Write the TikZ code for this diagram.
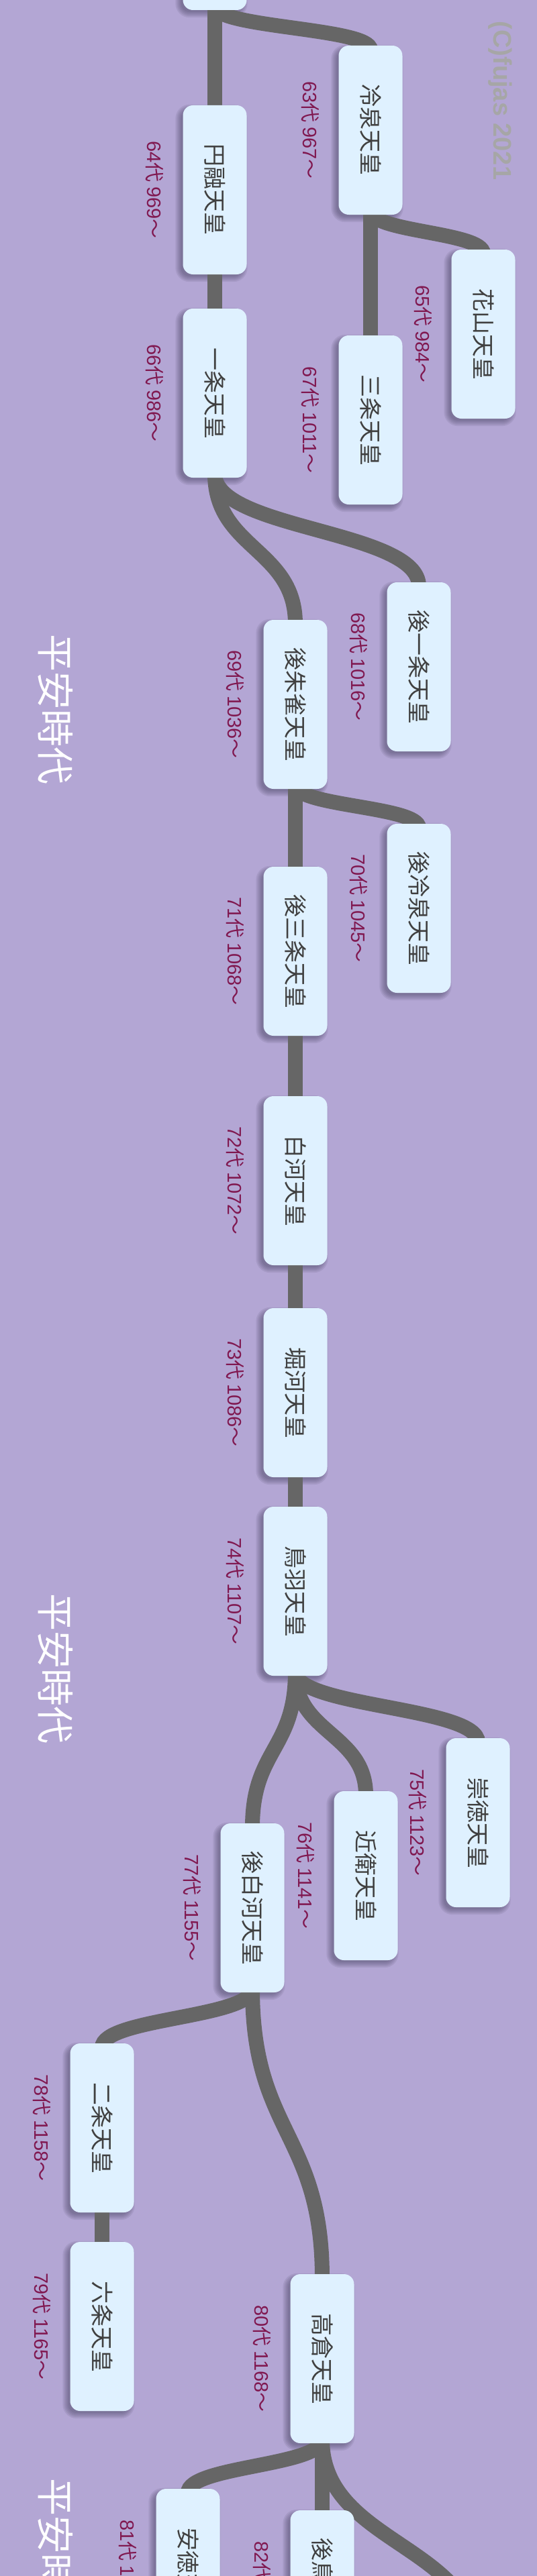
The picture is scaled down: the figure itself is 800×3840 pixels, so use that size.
\documentclass[tikz,border=0pt]{standalone}
\usepackage{fontspec}
\usepackage{graphicx}
\setmainfont{Noto Sans CJK JP}
\newfontfamily\cpfont{Liberation Sans}
\usetikzlibrary{calc}
\definecolor{bgc}{HTML}{B3A6D4}
\definecolor{nodefill}{HTML}{DFF1FF}
\definecolor{nodetext}{HTML}{404040}
\definecolor{lnkc}{HTML}{666666}
\definecolor{lblc}{HTML}{801850}
\definecolor{cpc}{HTML}{A6A6A6}
\definecolor{erac}{HTML}{FFFFFF}
\definecolor{shc}{HTML}{2A2440}
\pgfdeclarelayer{bglayer}
\pgfdeclarelayer{shlayer}
\pgfdeclarelayer{lklayer}
\pgfsetlayers{bglayer,shlayer,lklayer,main}
\tikzset{
  emp/.style={rectangle, rounded corners=15pt, fill=nodefill, minimum width=95pt,
    minimum height=252pt, inner sep=0pt, text=nodetext, font=\fontsize{34}{34}\selectfont},
  lbl/.style={inner sep=0pt, text=lblc, font=\fontsize{29}{29}\selectfont},
  eralbl/.style={inner sep=0pt, text=erac, font=\fontsize{56}{56}\selectfont},
  cpr/.style={inner sep=0pt, text=cpc, font=\cpfont\bfseries\fontsize{38}{38}\selectfont},
  lnkline/.style={draw=lnkc, line width=22pt, shorten <=-6pt, shorten >=-6pt},
  shadpart/.style={fill=shc, fill opacity=0.09}
}
\newcommand\lnk[2]{\draw[lnkline] let \p1=(#1.south), \p2=(#2.north) in
  (\p1) .. controls (\x1,{0.5*\y1+0.5*\y2}) and (\x2,{0.5*\y1+0.5*\y2}) .. (\p2);}
\newcommand\tn[1]{\rotatebox{-90}{#1}}
\newcommand\rl[2]{\rotatebox{-90}{{\cpfont #1}代 {\cpfont #2}～}}
\begin{document}
\begin{tikzpicture}[x=1pt,y=-1pt]
\useasboundingbox (0,0) rectangle (800,3840);
\begin{pgfonlayer}{bglayer}
  \fill[bgc] (0,0) rectangle (800,3840);
\end{pgfonlayer}
% emperors
\node[emp] (mura) at (320,-111) {};
\node[emp] (reizei) at (552,194) {\tn{冷泉天皇}};
\node[emp] (enyu) at (320,283) {\tn{円融天皇}};
\node[emp] (kazan) at (720,498) {\tn{花山天皇}};
\node[emp] (ichijo) at (320,586) {\tn{一条天皇}};
\node[emp] (sanjo) at (552,626) {\tn{三条天皇}};
\node[emp] (goichijo) at (624,994) {\tn{後一条天皇}};
\node[emp] (gosuzaku) at (440,1050) {\tn{後朱雀天皇}};
\node[emp] (goreizei) at (624,1354) {\tn{後冷泉天皇}};
\node[emp] (gosanjo) at (440,1418) {\tn{後三条天皇}};
\node[emp] (shirakawa) at (440,1760) {\tn{白河天皇}};
\node[emp] (horikawa) at (440,2076) {\tn{堀河天皇}};
\node[emp] (toba) at (440,2372) {\tn{鳥羽天皇}};
\node[emp] (sutoku) at (712,2717) {\tn{崇徳天皇}};
\node[emp] (konoe) at (545,2796) {\tn{近衛天皇}};
\node[emp] (goshirakawa) at (376,2844) {\tn{後白河天皇}};
\node[emp] (nijo) at (152,3172) {\tn{二条天皇}};
\node[emp] (rokujo) at (152,3468) {\tn{六条天皇}};
\node[emp] (takakura) at (480,3516) {\tn{高倉天皇}};
\node[emp] (antoku) at (280,3836) {\tn{安徳天皇}};
\node[emp] (gotoba) at (480,3868) {\tn{後鳥羽天皇}};
\coordinate (offnode) at (712,3943);
% shadows (soft, offset down-left)
\begin{pgfonlayer}{shlayer}
\foreach \n in {mura,reizei,enyu,kazan,ichijo,sanjo,goichijo,gosuzaku,goreizei,gosanjo,
  shirakawa,horikawa,toba,sutoku,konoe,goshirakawa,nijo,rokujo,takakura,antoku,gotoba}{
  \foreach \e in {-2,0,2,4,6}{
    \fill[shadpart, rounded corners={15pt+\e pt}]
      ([xshift={-5pt-\e pt},yshift={-5pt-\e pt}]\n.south west) rectangle
      ([xshift={-5pt+\e pt},yshift={-5pt+\e pt}]\n.north east);
  }
}
\end{pgfonlayer}
% links
\begin{pgfonlayer}{lklayer}
\lnk{mura}{reizei}
\lnk{mura}{enyu}
\lnk{reizei}{kazan}
\lnk{reizei}{sanjo}
\lnk{enyu}{ichijo}
\lnk{ichijo}{gosuzaku}
\lnk{ichijo}{goichijo}
\lnk{gosuzaku}{goreizei}
\lnk{gosuzaku}{gosanjo}
\lnk{gosanjo}{shirakawa}
\lnk{shirakawa}{horikawa}
\lnk{horikawa}{toba}
\lnk{toba}{sutoku}
\lnk{toba}{konoe}
\lnk{toba}{goshirakawa}
\lnk{goshirakawa}{nijo}
\lnk{goshirakawa}{takakura}
\lnk{nijo}{rokujo}
\lnk{takakura}{antoku}
\lnk{takakura}{gotoba}
\draw[lnkline] let \p1=(takakura.south), \p2=(offnode) in
  (\p1) .. controls (\x1,{0.5*\y1+0.5*\y2}) and (\x2,{0.5*\y1+0.5*\y2}) .. (\p2);
\end{pgfonlayer}
% era labels
\node[eralbl] (era1) at (83,1057) {\tn{平安時代}};
\node[eralbl] (era2) at (83,2487) {\tn{平安時代}};
\node[eralbl] (era3) at (83,3806) {\tn{平安時代}};
% reign labels
\node[lbl] (l63) at ([xshift=-42pt]reizei.west) {\rl{63}{967}};
\node[lbl] (l64) at ([xshift=-42pt]enyu.west) {\rl{64}{969}};
\node[lbl] (l65) at ([xshift=-42pt]kazan.west) {\rl{65}{984}};
\node[lbl] (l66) at ([xshift=-42pt]ichijo.west) {\rl{66}{986}};
\node[lbl] (l67) at ([xshift=-42pt]sanjo.west) {\rl{67}{1011}};
\node[lbl] (l68) at ([xshift=-42pt]goichijo.west) {\rl{68}{1016}};
\node[lbl] (l69) at ([xshift=-42pt]gosuzaku.west) {\rl{69}{1036}};
\node[lbl] (l70) at ([xshift=-42pt]goreizei.west) {\rl{70}{1045}};
\node[lbl] (l71) at ([xshift=-42pt]gosanjo.west) {\rl{71}{1068}};
\node[lbl] (l72) at ([xshift=-42pt]shirakawa.west) {\rl{72}{1072}};
\node[lbl] (l73) at ([xshift=-42pt]horikawa.west) {\rl{73}{1086}};
\node[lbl] (l74) at ([xshift=-42pt]toba.west) {\rl{74}{1107}};
\node[lbl] (l75) at ([xshift=-42pt]sutoku.west) {\rl{75}{1123}};
\node[lbl] (l76) at ([xshift=-42pt]konoe.west) {\rl{76}{1141}};
\node[lbl] (l77) at ([xshift=-42pt]goshirakawa.west) {\rl{77}{1155}};
\node[lbl] (l78) at ([xshift=-42pt]nijo.west) {\rl{78}{1158}};
\node[lbl] (l79) at ([xshift=-42pt]rokujo.west) {\rl{79}{1165}};
\node[lbl] (l80) at ([xshift=-42pt]takakura.west) {\rl{80}{1168}};
\node[lbl] (l81) at ([xshift=-42pt]antoku.west) {\rl{81}{1180}};
\node[lbl] (l82) at ([xshift=-42pt]gotoba.west) {\rl{82}{1183}};
% copyright
\node[cpr] (cp) at (745,150) {\tn{(C)fujas 2021}};
\end{tikzpicture}
\end{document}
